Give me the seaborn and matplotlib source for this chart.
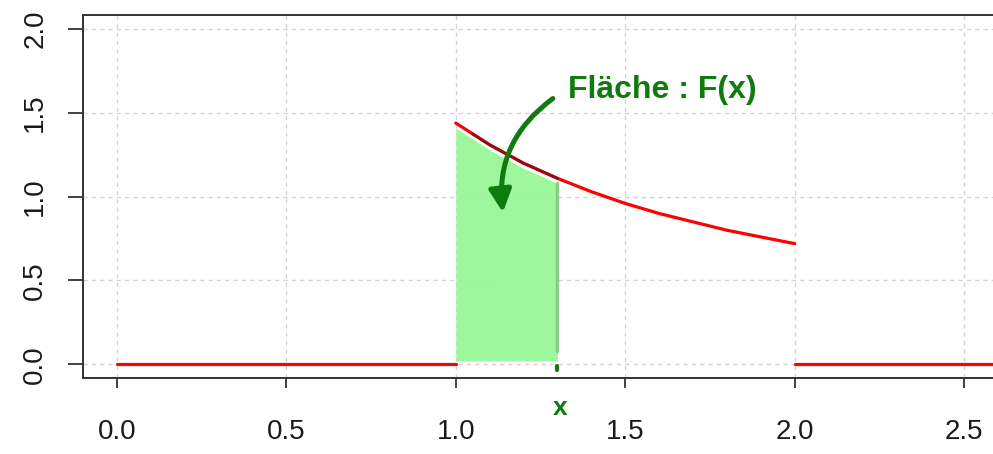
import numpy as np
import matplotlib
matplotlib.use("Agg")
import matplotlib.pyplot as plt
import seaborn as sns
from matplotlib.patches import FancyArrowPatch

# density (0 outside [1, 2])
x_left = [0.0, 1.0]
y_left = [0.0, 0.0]
x_mid = [1.00, 1.05, 1.10, 1.15, 1.20, 1.25, 1.30, 1.35, 1.40, 1.45, 1.50,
         1.55, 1.60, 1.65, 1.70, 1.75, 1.80, 1.85, 1.90, 1.95, 2.00]
y_mid = [1.44, 1.375, 1.31, 1.255, 1.20, 1.155, 1.11, 1.07, 1.03, 0.995, 0.96,
         0.93, 0.90, 0.875, 0.85, 0.825, 0.80, 0.78, 0.76, 0.74, 0.72]
x_right = [2.0, 2.6]
y_right = [0.0, 0.0]

x_mark = 1.3
xticks = [0.0, 0.5, 1.0, 1.5, 2.0, 2.5]
yticks = [0.0, 0.5, 1.0, 1.5, 2.0]

sns.set_style("ticks")
plt.rcParams["font.family"] = ["Liberation Sans", "DejaVu Sans"]

fig = plt.figure(figsize=(9.93, 4.54), dpi=100)
ax = fig.add_axes([83 / 993, (454 - 378.3) / 454, (998 - 83) / 993, (378.3 - 15) / 454])

ax.set_xlim(-0.1, 2.6)
ax.set_ylim(-0.084, 2.085)
ax.set_xticks(xticks)
ax.set_yticks(yticks)
ax.set_xticklabels([f"{t:.1f}" for t in xticks])
ax.set_yticklabels([f"{t:.1f}" for t in yticks])
ax.grid(True, color="#d3d3d3", linestyle=(0, (3, 3)), linewidth=1.0)
ax.set_axisbelow(True)

for s in ax.spines.values():
    s.set_color("#333333")
    s.set_linewidth(1.4)
    s.set_visible(True)

ax.tick_params(axis="x", length=7, width=1.3, color="#333333", labelsize=20,
               pad=22, labelcolor="#1a1a1a")
ax.tick_params(axis="y", length=11, width=1.3, color="#333333", labelsize=20,
               pad=14, labelcolor="#1a1a1a", labelrotation=90)
for lbl in ax.get_yticklabels():
    lbl.set_va("center")

# red density
for xs, ys in [(x_left, y_left), (x_mid, y_mid), (x_right, y_right)]:
    sns.lineplot(x=xs, y=ys, color="red", linewidth=2.3, estimator=None,
                 sort=False, ax=ax, zorder=3)

# hand-drawn green area up to x
xm = np.array(x_mid)
ym = np.array(y_mid)
sel = xm <= x_mark + 1e-9
ax.fill_between(xm[sel], 0.02, ym[sel] - 0.03, color="#98f798", alpha=0.95,
                linewidth=0, zorder=4)
ax.plot(xm[sel][1:], ym[sel][1:], color="#8b1010", linewidth=2.0, zorder=5)
ax.plot([x_mark, x_mark], [0.08, 1.08], color="#7cc27c", linewidth=2.5,
        alpha=0.8, zorder=5, solid_capstyle="round")

green = "#0f7b0f"
ax.plot([x_mark, x_mark], [-0.035, -0.012], color=green, linewidth=3,
        solid_capstyle="round", zorder=6, clip_on=False)
ax.text(x_mark + 0.008, -0.082, "x", transform=ax.get_xaxis_transform(),
        color=green, fontsize=19, fontweight="bold", ha="center", va="center")

ax.text(1.33, 1.64, "Fläche : F(x)", color=green, fontsize=23,
        fontweight="bold", ha="left", va="center", zorder=6)
arrow = FancyArrowPatch((1.293, 1.596), (1.14, 0.89),
                        connectionstyle="arc3,rad=0.3", arrowstyle="-|>",
                        mutation_scale=34, color=green, linewidth=3.6, zorder=7)
ax.add_patch(arrow)

fig.savefig("out.png", dpi=100)
